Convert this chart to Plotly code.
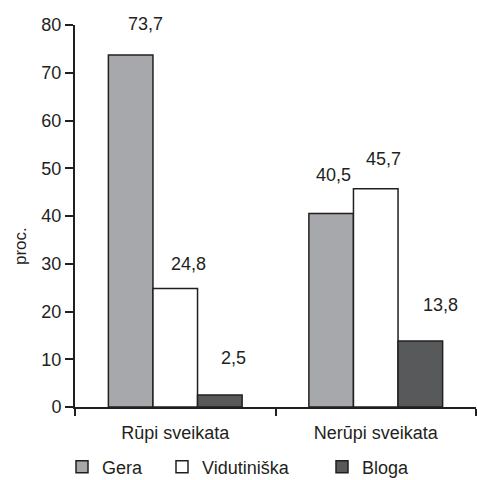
import plotly.graph_objects as go

# Health self-assessment by group (percent)
categories = ["Rūpi sveikata", "Nerūpi sveikata"]
series_names = ["Gera", "Vidutiniška", "Bloga"]
gera = [73.7, 40.5]
vidutiniska = [24.8, 45.7]
bloga = [2.5, 13.8]
y_ticks = [0, 10, 20, 30, 40, 50, 60, 70, 80]

series_values = [gera, vidutiniska, bloga]
fill_colors = ["#a7a8ab", "#ffffff", "#58595b"]
ink = "#231f20"
font_family = "Liberation Sans, Arial, sans-serif"
FS = 18

W, H = 477, 480
M = dict(l=75, r=1, t=25, b=73, autoexpand=False)
BARGAP = 0.333
plot_w = W - M["l"] - M["r"]
plot_h = H - M["t"] - M["b"]
cat_w = plot_w / len(categories)
bar_w = cat_w * (1 - BARGAP) / len(series_names)

# hand-placed label nudges (px) relative to each bar's top centre
label_dx = [[15, 2], [13, 8], [14, 20]]
label_dy = [[31, 39], [25, 30], [37, 36]]

fig = go.Figure()
legend_ids = ["legend", "legend2", "legend3"]
legend_x_px = [62, 162, 322]

for i, (name, vals, col) in enumerate(zip(series_names, series_values, fill_colors)):
    fig.add_trace(go.Bar(
        name=name,
        x=categories,
        y=vals,
        marker=dict(color=col, line=dict(color=ink, width=1.5)),
        legend=legend_ids[i],
        showlegend=True,
        hoverinfo="skip",
    ))

annotations = []
for i, vals in enumerate(series_values):
    offset = (i - (len(series_names) - 1) / 2) * bar_w
    for j, v in enumerate(vals):
        annotations.append(dict(
            x=categories[j], y=v, xref="x", yref="y",
            text=f"{v:.1f}".replace(".", ","),
            showarrow=False,
            xshift=offset + label_dx[i][j],
            yshift=label_dy[i][j],
            font=dict(size=FS, color=ink, family=font_family),
        ))

# rotated y-axis title, placed in pixels and converted to paper units
title_px = (20, 246)
annotations.append(dict(
    x=(title_px[0] - M["l"]) / plot_w,
    y=(H - M["b"] - title_px[1]) / plot_h,
    xref="paper", yref="paper",
    xanchor="center", yanchor="middle",
    text="proc.", showarrow=False, textangle=-90,
    font=dict(size=17, color=ink, family=font_family),
))

layout_legends = {}
for lid, px in zip(legend_ids, legend_x_px):
    layout_legends[lid] = dict(
        x=(px - M["l"]) / plot_w,
        y=(H - M["b"] - 467) / plot_h,
        xanchor="left", yanchor="middle",
        orientation="h",
        bgcolor="rgba(0,0,0,0)",
        font=dict(size=FS, color=ink, family=font_family),
        itemwidth=30,
    )

fig.update_layout(
    width=W, height=H,
    margin=M,
    barmode="group",
    bargap=BARGAP,
    bargroupgap=0,
    plot_bgcolor="white",
    paper_bgcolor="white",
    showlegend=True,
    font=dict(family=font_family, size=FS, color=ink),
    annotations=annotations,
    **layout_legends,
)

fig.update_xaxes(
    showline=True, linecolor=ink, linewidth=2,
    ticks="outside", tickson="boundaries", ticklen=7, tickwidth=1.5, tickcolor=ink,
    ticklabelstandoff=8,
    showgrid=False, zeroline=False,
    tickfont=dict(size=FS, color=ink, family=font_family),
)
fig.update_yaxes(
    range=[0, 80], tickvals=y_ticks,
    showline=True, linecolor=ink, linewidth=2,
    ticks="outside", ticklen=8, tickwidth=1.5, tickcolor=ink,
    showgrid=False, zeroline=False,
    tickfont=dict(size=FS, color=ink, family=font_family),
)

fig.write_html("out.html")
